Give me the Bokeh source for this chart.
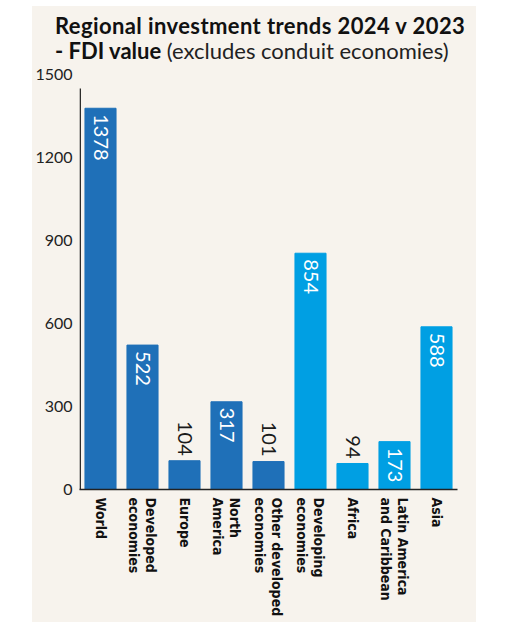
import math
from bokeh.plotting import figure
from bokeh.layouts import column
from bokeh.models import ColumnDataSource, FixedTicker, Range1d, Div
from bokeh.core.properties import value
from bokeh.embed import file_html
from bokeh.resources import INLINE

# ---- data ----
categories = ["World", "Developed\neconomies", "Europe", "North\nAmerica",
              "Other developed\neconomies", "Developing\neconomies", "Africa",
              "Latin America\nand Caribbean", "Asia"]
fdi_values = [1378, 522, 104, 317, 101, 854, 94, 173, 588]
groups = ["developed", "developed", "developed", "developed", "developed",
          "developing", "developing", "developing", "developing"]
y_ticks = [0, 300, 600, 900, 1200, 1500]
title_line1 = "Regional investment trends 2024 v 2023"
title_line2_bold = "- FDI value"
title_line2_regular = "(excludes conduit economies)"

# ---- styles ----
DARK = "#1f70b8"
LIGHT = "#009fe3"
BG = "#f7f3ed"
colors = [DARK if g == "developed" else LIGHT for g in groups]
inside = [v > 150 for v in fdi_values]
xpos = [i + 0.5 for i in range(len(categories))]

src = ColumnDataSource(dict(x=xpos, val=fdi_values, color=colors))
src_in = ColumnDataSource(dict(x=[x for x, i in zip(xpos, inside) if i],
                               val=[v for v, i in zip(fdi_values, inside) if i],
                               lab=[str(v) for v, i in zip(fdi_values, inside) if i]))
src_out = ColumnDataSource(dict(x=[x for x, i in zip(xpos, inside) if not i],
                                val=[v for v, i in zip(fdi_values, inside) if not i],
                                lab=[str(v) for v, i in zip(fdi_values, inside) if not i]))

p = figure(x_range=Range1d(0, len(categories)), y_range=Range1d(0, 1500),
           frame_width=378, frame_height=415,
           output_backend="svg", toolbar_location=None,
           min_border_left=46, min_border_right=19, min_border_top=10,
           min_border_bottom=133, margin=0)
p.background_fill_color = BG
p.border_fill_color = BG
p.outline_line_color = None
p.xgrid.grid_line_color = None
p.ygrid.grid_line_color = None

p.extra_x_ranges = {"px": Range1d(0, 378)}
p.extra_y_ranges = {"px": Range1d(0, 415)}

p.vbar(x="x", top="val", width=0.74, color="color", source=src)

FONT_NUM = value("Lato")
p.text(x="x", y="val", text="lab", source=src_in, angle=-math.pi / 2,
       text_align="left", text_baseline="middle", y_offset=6,
       text_color="white", text_font=FONT_NUM, text_font_size="20px")
p.text(x="x", y="val", text="lab", source=src_out, angle=-math.pi / 2,
       text_align="right", text_baseline="middle", y_offset=-5,
       text_color="#1a1a1a", text_font=FONT_NUM, text_font_size="20px")

# y axis
p.yaxis.ticker = FixedTicker(ticks=y_ticks)
p.yaxis.axis_line_color = None
p.yaxis.major_tick_line_color = None
p.yaxis.minor_tick_line_color = None
p.yaxis.major_tick_out = 0
p.yaxis.major_tick_in = 0
p.yaxis.axis_label_standoff = 0
p.yaxis.major_label_standoff = 7
p.yaxis.major_label_text_font = "Lato"
p.yaxis.major_label_text_font_size = "16px"
p.yaxis.major_label_text_color = "#222222"

# vertical axis line, stopping short of the top tick
p.segment(x0=[0.7], y0=[-2], x1=[0.7], y1=[401], x_range_name="px", y_range_name="px",
          line_color="#222222", line_width=1.5)

# x axis
p.xaxis.ticker = FixedTicker(ticks=xpos)
p.xaxis.major_label_overrides = {x: c for x, c in zip(xpos, categories)}
p.xaxis.axis_line_color = "#222222"
p.xaxis.axis_line_width = 1.5
p.xaxis.major_tick_line_color = None
p.xaxis.minor_tick_line_color = None
p.xaxis.major_tick_out = 0
p.xaxis.major_tick_in = 0
p.xaxis.axis_label_standoff = 0
p.xaxis.major_label_orientation = -math.pi / 2
p.xaxis.major_label_standoff = 8
p.xaxis.major_label_text_font = "'Liberation Sans Narrow', 'DejaVu Sans Condensed', sans-serif"
p.xaxis.major_label_text_font_style = "bold"
p.xaxis.major_label_text_font_size = "14px"
p.xaxis.major_label_text_color = "#111111"
p.xaxis.major_label_text_line_height = 1.1

# title (mixed bold / regular on line 2)
title = Div(
    text=(f'<div style="padding:7px 0 0 23px;">'
          f'<div style="font-weight:700;letter-spacing:0.4px">{title_line1}</div>'
          f'<div><span style="font-weight:700">{title_line2_bold}</span> '
          f'<span style="font-weight:400;color:#222">{title_line2_regular}</span></div>'
          f'</div>'),
    width=443, height=58, margin=0,
    styles={"font-family": "Lato, sans-serif", "font-size": "22px", "line-height": "25px",
            "color": "#111111", "background-color": BG, "white-space": "nowrap",
            "overflow": "hidden"})

layout = column(title, p, spacing=0, margin=(6, 0, 0, 32),
                styles={"background-color": BG})

open("out.html", "w").write(file_html(layout, INLINE))
